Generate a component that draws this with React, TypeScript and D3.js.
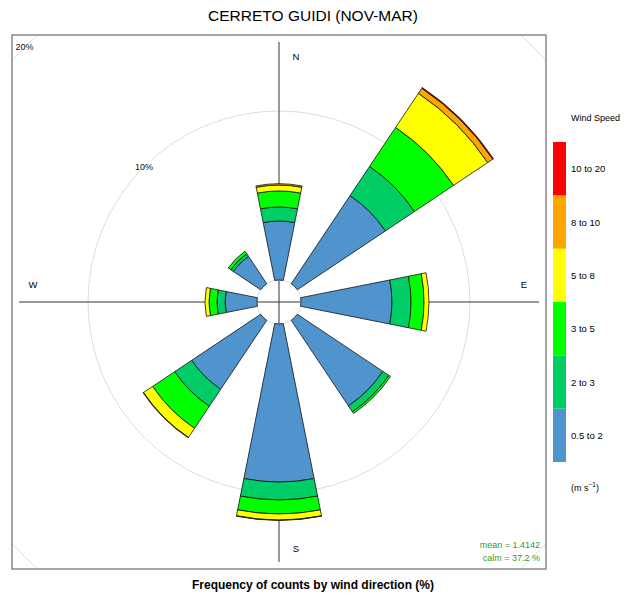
import React from "react";
import * as d3 from "d3";

const title = "CERRETO GUIDI (NOV-MAR)";
const xLabel = "Frequency of counts by wind direction (%)";
const directions = [0, 45, 90, 135, 180, 225, 270, 315];
const compass = ["N", "E", "S", "W"];
const speedBins = ["0.5 to 2", "2 to 3", "3 to 5", "5 to 8", "8 to 10", "10 to 20"];
const binColors = ["#4F94CD", "#00CD66", "#00FF00", "#FFFF00", "#FFA500", "#FF0000"];
// frequency (%) per direction for each speed bin
const bin1 = [3.49, 6.27, 5.38, 6.09, 9.35, 4.91, 1.89, 1.95];
const bin2 = [0.83, 2.07, 1.13, 0.42, 1.06, 1.21, 0.48, 0.18];
const bin3 = [0.95, 2.78, 0.77, 0.12, 0.83, 1.57, 0.47, 0.18];
const bin4 = [0.35, 2.43, 0.29, 0.0, 0.36, 0.65, 0.24, 0.0];
const bin5 = [0.08, 0.36, 0.0, 0.0, 0.02, 0.03, 0.0, 0.0];
const bin6 = [0.0, 0.05, 0.0, 0.0, 0.0, 0.0, 0.0, 0.0];
const gridLevels = [10, 20];
const meanText = "mean = 1.4142";
const calmText = "calm = 37.2 %";

export default function App() {
  const W = 624, H = 598;
  const cx = 279, cy = 302;
  const box = { x: 12, y: 35, w: 534, h: 534 };
  const r = d3.scaleLinear().domain([0, 20]).range([22, 360]);
  const bins = [bin1, bin2, bin3, bin4, bin5, bin6];
  const halfW = (11.25 * Math.PI) / 180;
  const arc = d3.arc<any>();
  const font = "'Liberation Sans', Arial, Helvetica, sans-serif";

  const segments: any[] = [];
  directions.forEach((dir, i) => {
    let cum = 0;
    bins.forEach((b, k) => {
      const v = b[i];
      if (v <= 0) return;
      const a = (dir * Math.PI) / 180;
      segments.push({
        d: arc({
          innerRadius: r(cum),
          outerRadius: r(cum + v),
          startAngle: a - halfW,
          endAngle: a + halfW,
        }),
        color: binColors[k],
      });
      cum += v;
    });
  });

  const legendY = d3.scaleBand<number>().domain(d3.range(6)).range([462, 142]);

  return (
    <svg width={W} height={H} style={{ display: "block", position: "absolute", left: 0, top: 0 }} fontFamily={font}>
      <rect x={0} y={0} width={W} height={H} fill="white" />
      <text x={313} y={21} textAnchor="middle" fontSize={15.5} fill="#000">{title}</text>
      <defs>
        <clipPath id="panel">
          <rect x={box.x} y={box.y} width={box.w} height={box.h} />
        </clipPath>
      </defs>
      <g clipPath="url(#panel)">
        {gridLevels.map((g) => (
          <circle key={g} cx={cx} cy={cy} r={r(g)} fill="none" stroke="#dcdcdc" strokeWidth={1} />
        ))}
      </g>
      <line x1={cx} x2={cx} y1={cy - 260} y2={cy + 260} stroke="#333" strokeWidth={1} />
      <line x1={cx - 260} x2={cx + 260} y1={cy} y2={cy} stroke="#333" strokeWidth={1} />
      <circle cx={cx} cy={cy} r={r(0)} fill="none" stroke="#dcdcdc" strokeWidth={1} />
      <g transform={`translate(${cx},${cy})`}>
        {segments.map((s, i) => (
          <path key={i} d={s.d} fill={s.color} stroke="#111" strokeWidth={0.8} strokeLinejoin="round" />
        ))}
      </g>
      <text x={296} y={60} fontSize={9.5} textAnchor="middle">{compass[0]}</text>
      <text x={524} y={288} fontSize={9.5} textAnchor="middle">{compass[1]}</text>
      <text x={296} y={552} fontSize={9.5} textAnchor="middle">{compass[2]}</text>
      <text x={33} y={288} fontSize={9.5} textAnchor="middle">{compass[3]}</text>
      {gridLevels.map((g) => {
        const rr = r(g) * Math.SQRT1_2;
        return (
          <text key={g} x={cx - rr} y={cy - rr + 3} fontSize={9} textAnchor="middle" fill="#111">{`${g}%`}</text>
        );
      })}
      <text x={540} y={548} fontSize={9} textAnchor="end" fill="#2E9B2E">{meanText}</text>
      <text x={540} y={561} fontSize={9} textAnchor="end" fill="#2E9B2E">{calmText}</text>
      <rect x={box.x} y={box.y} width={box.w} height={box.h} fill="none" stroke="#888" strokeWidth={1.5} />
      <text x={313} y={589} textAnchor="middle" fontSize={12} fontWeight="bold">{xLabel}</text>
      <text x={571} y={121} fontSize={9}>Wind Speed</text>
      {speedBins.map((s, k) => (
        <g key={s}>
          <rect x={553} y={legendY(k)} width={13} height={legendY.bandwidth()} fill={binColors[k]} />
          <text x={571} y={(legendY(k) as number) + legendY.bandwidth() / 2 + 3.5} fontSize={9.5}>{s}</text>
        </g>
      ))}
      <text x={571} y={491} fontSize={9}>
        (m s<tspan dy={-4} fontSize={6.5}>−1</tspan><tspan dy={4}>)</tspan>
      </text>
    </svg>
  );
}
